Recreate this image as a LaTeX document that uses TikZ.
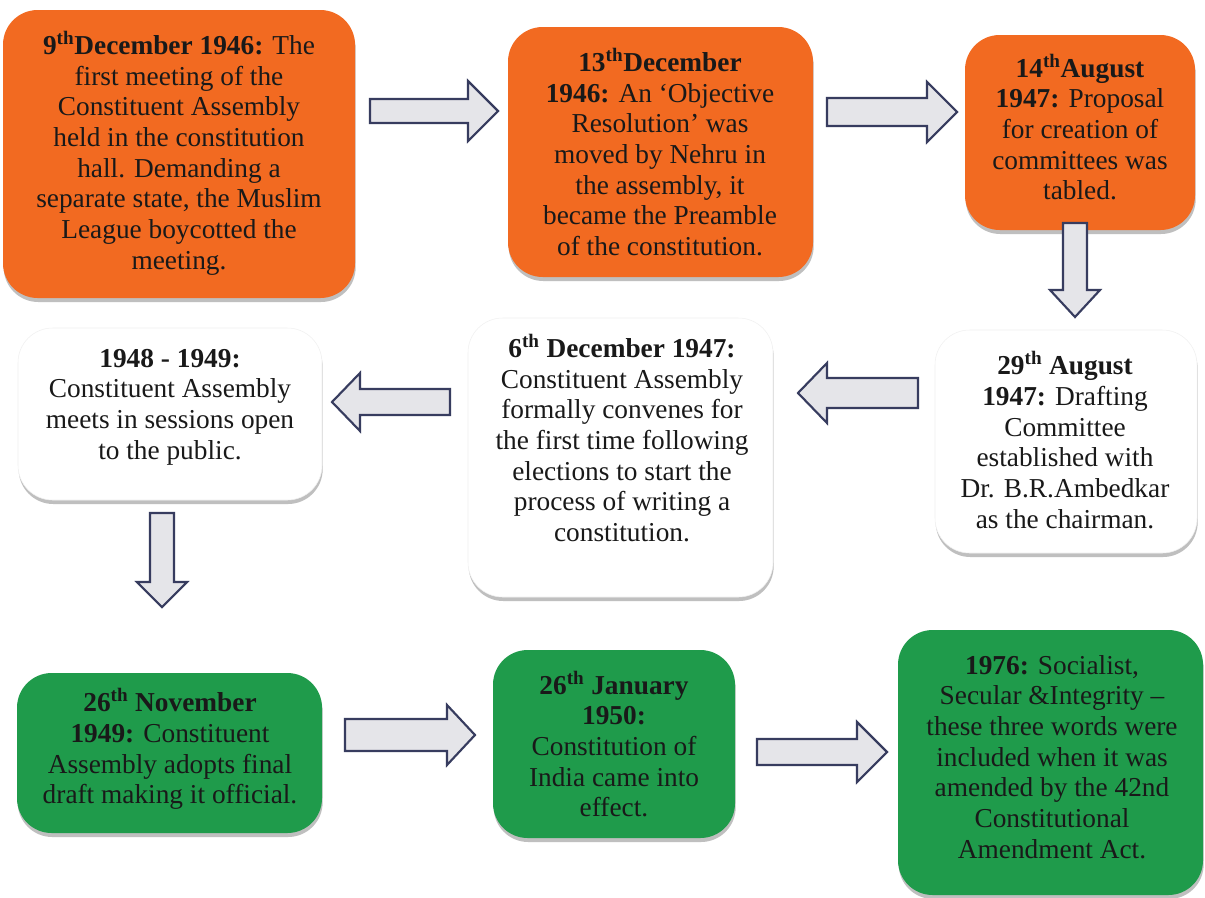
\documentclass[tikz,border=0pt]{standalone}
\usepackage{fontspec}
\setmainfont{Liberation Serif}
\usetikzlibrary{shadows}
\definecolor{orng}{RGB}{242,106,33}
\definecolor{grn}{RGB}{31,155,75}
\definecolor{arrfill}{RGB}{229,229,233}
\definecolor{arrline}{RGB}{55,60,95}
\tikzset{
 base/.style={rounded corners=26pt, inner sep=0pt, drop shadow={shadow xshift=0.5pt, shadow yshift=-3pt, fill=black!45, opacity=.55}},
 orangebox/.style={base, fill=orng},
 greenbox/.style={base, fill=grn},
 whitebox/.style={base, fill=white, draw=black!6},
 txt/.style={align=center, font=\fontsize{20.5}{23}\selectfont, text=black!90, inner sep=0pt},
 blockarrow/.style={fill=arrfill, draw=arrline, line width=1.6pt, line join=miter},
}
\newcommand\tlbox[6]{\node[#2, minimum width={(#5-#3)*0.75pt}, minimum height={(#6-#4)*0.75pt}] (#1) at ({(#3+#5)/2},{(#4+#6)/2}) {};}
\newcommand\rarr[6]{\draw[blockarrow] ({#1},{#3-#4}) -- ({#2-#6},{#3-#4}) -- ({#2-#6},{#3-#5}) -- ({#2},{#3}) -- ({#2-#6},{#3+#5}) -- ({#2-#6},{#3+#4}) -- ({#1},{#3+#4}) -- cycle;}
\newcommand\larr[6]{\draw[blockarrow] ({#2},{#3-#4}) -- ({#1+#6},{#3-#4}) -- ({#1+#6},{#3-#5}) -- ({#1},{#3}) -- ({#1+#6},{#3+#5}) -- ({#1+#6},{#3+#4}) -- ({#2},{#3+#4}) -- cycle;}
\newcommand\darr[6]{\draw[blockarrow] ({#1-#4},{#2}) -- ({#1+#4},{#2}) -- ({#1+#4},{#3-#6}) -- ({#1+#5},{#3-#6}) -- ({#1},{#3}) -- ({#1-#5},{#3-#6}) -- ({#1-#4},{#3-#6}) -- cycle;}
\begin{document}
\begin{tikzpicture}[x=0.75pt,y=-0.75pt]
\fill[white] (0,0) rectangle (1205,897);
\useasboundingbox (0,0) rectangle (1205,897);
% boxes
\tlbox{b1}{orangebox}{3}{10}{355}{298}
\tlbox{b2}{orangebox}{508}{27}{813}{277}
\tlbox{b3}{orangebox}{965}{35}{1195}{230}
\tlbox{b4}{whitebox}{935}{330}{1197}{553}
\tlbox{b5}{whitebox}{468}{318}{773}{597}
\tlbox{b6}{whitebox}{18}{328}{322}{500}
\tlbox{b7}{greenbox}{17}{673}{322}{833}
\tlbox{b8}{greenbox}{493}{650}{735}{838}
\tlbox{b9}{greenbox}{898}{630}{1203}{895}
% texts
\node[txt] (t1) at (179,153) {\textbf{9\textsuperscript{th}December 1946:} The\\first meeting of the\\Constituent Assembly\\held in the constitution\\hall. Demanding a\\separate state, the Muslim\\League boycotted the\\meeting.};
\node[txt] (t2) at (660,152) {\textbf{13\textsuperscript{th}December}\\\textbf{1946:} An ‘Objective\\Resolution’ was\\moved by Nehru in\\the assembly, it\\became the Preamble\\of the constitution.};
\node[txt] (t3) at (1080,127) {\textbf{14\textsuperscript{th}August}\\\textbf{1947:} Proposal\\for creation of\\committees was\\tabled.};
\node[txt] (t4) at (1065,440) {\textbf{29\textsuperscript{th} August}\\\textbf{1947:} Drafting\\Committee\\established with\\Dr. B.R.Ambedkar\\as the chairman.};
\node[txt] (t5) at (622,438) {\textbf{6\textsuperscript{th} December 1947:}\\Constituent Assembly\\formally convenes for\\the first time following\\elections to start the\\process of writing a\\constitution.};
\node[txt] (t6) at (170,407) {\textbf{1948 - 1949:}\\Constituent Assembly\\meets in sessions open\\to the public.};
\node[txt] (t7) at (170,749) {\textbf{26\textsuperscript{th} November}\\\textbf{1949:} Constituent\\Assembly adopts final\\draft making it official.};
\node[txt] (t8) at (614,744) {\textbf{26\textsuperscript{th} January}\\\textbf{1950:}\\Constitution of\\India came into\\effect.};
\node[txt] (t9) at (1052,757) {\textbf{1976:} Socialist,\\Secular \&Integrity –\\these three words were\\included when it was\\amended by the 42nd\\Constitutional\\Amendment Act.};
% block arrows
\rarr{370}{498}{111}{12}{30}{30}
\rarr{827}{957}{112}{14}{30}{30}
\darr{1075}{223}{317}{12}{25}{27}
\larr{798}{918}{393}{15}{30}{29}
\larr{332}{450}{402}{13}{29}{28}
\darr{162}{513}{607}{12}{25}{25}
\rarr{345}{475}{735}{16}{30}{28}
\rarr{757}{887}{752}{13}{30}{30}
\end{tikzpicture}
\end{document}
